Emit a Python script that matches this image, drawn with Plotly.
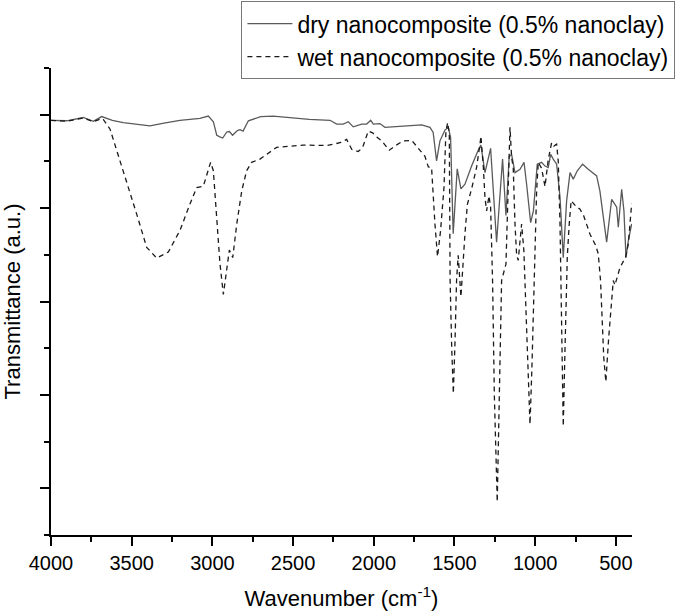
import plotly.graph_objects as go

# Dry nanocomposite (0.5% nanoclay) - wavenumber (cm-1) and transmittance (a.u.)
dry_wn = [4000, 3903, 3800, 3738, 3686, 3620, 3552, 3387, 3300, 3201, 3077, 3025, 2994, 2973,
          2950, 2936, 2911, 2895, 2875, 2860, 2845, 2829, 2810, 2777, 2700, 2623, 2478, 2400,
          2271, 2230, 2189, 2158, 2127, 2100, 2075, 2044, 2019, 2003, 1962, 1931, 1879, 1797,
          1704, 1652, 1632, 1611, 1590, 1559, 1538, 1524, 1508, 1483, 1460, 1435, 1394, 1353,
          1336, 1311, 1276, 1239, 1202, 1181, 1161, 1146, 1125, 1094, 1069, 1053, 1028, 1011,
          987, 960, 939, 919, 904, 888, 867, 846, 826, 805, 784, 764, 739, 706, 671, 619, 599,
          557, 526, 506, 495, 485, 464, 450, 437, 423, 402]
dry_t = [8.88, 8.87, 8.94, 8.86, 8.96, 8.88, 8.83, 8.76, 8.82, 8.88, 8.92, 8.97, 8.85, 8.56,
         8.52, 8.50, 8.63, 8.64, 8.56, 8.60, 8.66, 8.68, 8.65, 8.87, 8.96, 8.97, 8.92, 8.90,
         8.88, 8.80, 8.80, 8.85, 8.74, 8.78, 8.80, 8.80, 8.88, 8.80, 8.81, 8.73, 8.74, 8.76,
         8.78, 8.73, 8.62, 8.01, 8.44, 8.67, 8.73, 8.51, 6.45, 7.84, 7.41, 7.51, 7.90, 8.24,
         8.35, 7.76, 8.28, 6.27, 8.05, 6.84, 8.10, 8.15, 7.76, 7.83, 7.98, 7.51, 6.69, 6.94,
         7.94, 7.98, 7.90, 7.87, 8.15, 8.05, 7.94, 7.23, 5.94, 7.16, 7.76, 7.62, 7.80, 7.94,
         7.83, 7.69, 7.37, 6.27, 7.19, 7.08, 7.02, 6.59, 7.40, 6.94, 5.94, 6.30, 6.66]

# Wet nanocomposite (0.5% nanoclay)
wet_wn = [4000, 3903, 3800, 3738, 3686, 3676, 3634, 3552, 3469, 3407, 3345, 3273, 3201, 3139,
          3097, 3056, 3035, 3011, 2994, 2973, 2953, 2932, 2911, 2895, 2874, 2849, 2818, 2788,
          2757, 2705, 2602, 2437, 2292, 2209, 2168, 2137, 2096, 2069, 2034, 2007, 1982, 1951,
          1904, 1869, 1817, 1765, 1724, 1683, 1662, 1642, 1621, 1605, 1586, 1565, 1553, 1542,
          1532, 1527, 1517, 1507, 1497, 1487, 1477, 1460, 1435, 1420, 1394, 1363, 1342, 1336,
          1321, 1311, 1301, 1286, 1276, 1264, 1253, 1235, 1222, 1208, 1181, 1167, 1156, 1146,
          1136, 1125, 1115, 1105, 1094, 1084, 1070, 1063, 1045, 1032, 1020, 1008, 1001, 991,
          981, 960, 939, 919, 898, 884, 867, 857, 846, 836, 826, 815, 805, 801, 789, 777, 743,
          723, 700, 660, 625, 609, 595, 575, 562, 545, 516, 506, 475, 440, 423, 402]
wet_t = [8.88, 8.86, 8.93, 8.85, 8.92, 8.90, 8.69, 7.80, 6.87, 6.16, 5.93, 6.06, 6.52, 7.09,
         7.44, 7.47, 7.73, 7.98, 7.80, 6.80, 5.81, 5.15, 5.66, 6.10, 5.94, 6.66, 7.37, 7.80,
         7.98, 8.05, 8.30, 8.35, 8.34, 8.40, 8.47, 8.26, 8.21, 8.30, 8.65, 8.61, 8.52, 8.44,
         8.24, 8.33, 8.44, 8.45, 8.28, 8.11, 7.88, 7.87, 6.66, 5.96, 6.52, 7.44, 8.65, 8.83,
         8.58, 5.45, 4.00, 3.03, 4.10, 5.45, 5.99, 5.10, 6.45, 7.08, 7.41, 7.87, 8.37, 8.54,
         7.87, 7.23, 6.94, 7.26, 7.02, 5.45, 3.00, 0.71, 3.00, 5.45, 5.80, 7.37, 8.73, 8.08,
         7.87, 6.66, 6.00, 5.88, 6.37, 6.66, 6.09, 5.45, 3.50, 2.37, 3.60, 5.45, 5.95, 7.37,
         7.98, 7.85, 7.46, 8.04, 8.40, 8.33, 8.37, 8.00, 6.66, 4.60, 2.33, 4.00, 5.45, 5.95,
         6.66, 7.16, 7.02, 6.98, 6.84, 6.44, 6.20, 6.02, 5.45, 3.80, 3.28, 4.20, 5.45, 5.35,
         5.72, 5.95, 6.23, 7.10]

x_major = [4000, 3500, 3000, 2500, 2000, 1500, 1000, 500]
x_minor = [3750, 3250, 2750, 2250, 1750, 1250, 750]
y_major = [1, 3, 5, 7, 9]
y_minor = [0, 2, 4, 6, 8, 10]

font_family = "Liberation Sans, Arial, sans-serif"

fig = go.Figure()
fig.add_trace(go.Scatter(
    x=dry_wn, y=dry_t, mode="lines", name="dry nanocomposite (0.5% nanoclay)",
    line=dict(color="#5a5a5a", width=1.3)))
fig.add_trace(go.Scatter(
    x=wet_wn, y=wet_t, mode="lines", name="wet nanocomposite (0.5% nanoclay)",
    line=dict(color="#1a1a1a", width=1.3, dash="5px,4px")))

fig.update_layout(
    width=685, height=613,
    margin=dict(l=51, r=53, t=68, b=78, autoexpand=False),
    paper_bgcolor="white", plot_bgcolor="white",
    font=dict(family=font_family, color="black"),
    showlegend=True,
    legend=dict(
        xref="container", yref="container",
        x=0.986, y=0.998, xanchor="right", yanchor="top",
        bordercolor="#777777", borderwidth=1, bgcolor="white",
        font=dict(size=23, family=font_family),
        tracegroupgap=0, itemwidth=45),
    xaxis=dict(
        range=[4000, 400], showgrid=False, zeroline=False,
        showline=True, linecolor="black", linewidth=1.5,
        tickmode="array", tickvals=x_major, ticktext=[str(v) for v in x_major],
        ticks="outside", ticklen=9, tickwidth=1.5, tickcolor="black", tickangle=0,
        tickfont=dict(size=20, family=font_family),
        minor=dict(tickvals=x_minor, ticks="outside", ticklen=5, tickwidth=1.5, tickcolor="black"),
        title=dict(text="Wavenumber (cm<sup>-1</sup>)", font=dict(size=22, family=font_family), standoff=18),
    ),
    yaxis=dict(
        range=[0, 10], showgrid=False, zeroline=False,
        showline=True, linecolor="black", linewidth=1.5,
        tickmode="array", tickvals=y_major, showticklabels=False,
        ticks="outside", ticklen=9, tickwidth=1.5, tickcolor="black",
        minor=dict(tickvals=y_minor, ticks="outside", ticklen=5, tickwidth=1.5, tickcolor="black"),
        title=dict(text="Transmittance (a.u.)", font=dict(size=22, family=font_family), standoff=16),
    ),
)

fig.write_html("out.html")
